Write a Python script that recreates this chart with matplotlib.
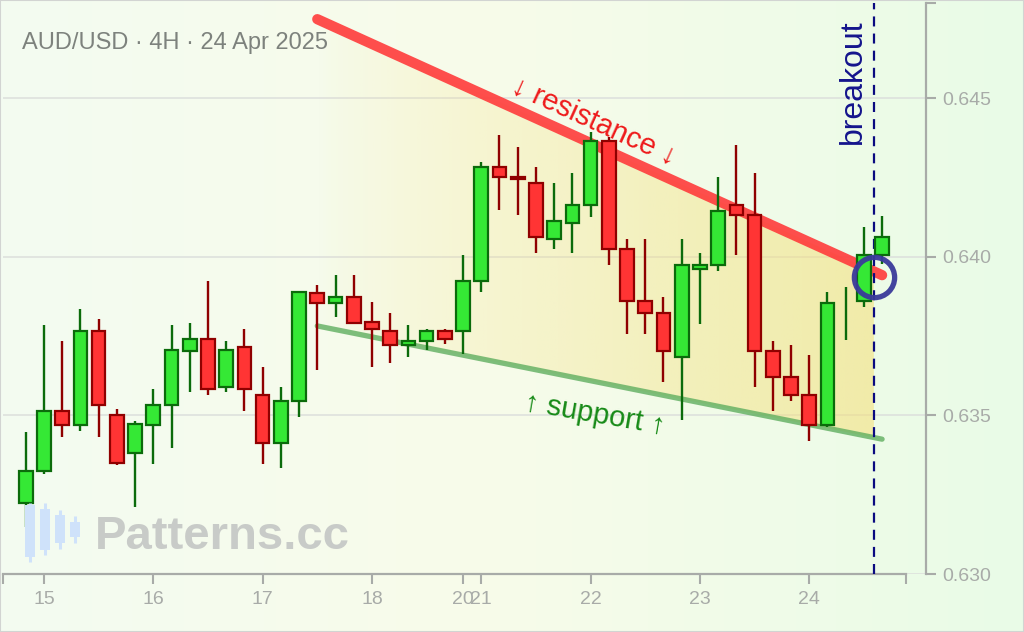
import numpy as np
import matplotlib
matplotlib.use("Agg")
import matplotlib.pyplot as plt
from matplotlib.colors import to_rgb
from matplotlib.patches import Rectangle, Polygon

plt.rcParams['font.family'] = ['Liberation Sans', 'DejaVu Sans']

title = "AUD/USD · 4H · 24 Apr 2025"

# 4H candles, AUD/USD, 14-24 Apr 2025
opens = [0.63225, 0.63325, 0.63515, 0.63470, 0.63767, 0.63502, 0.63381, 0.63470,
         0.63533, 0.63704, 0.63742, 0.63588, 0.63716, 0.63565, 0.63413, 0.63545,
         0.63887, 0.63854, 0.63874, 0.63793, 0.63767, 0.63721, 0.63734, 0.63767,
         0.63766, 0.63923, 0.64284, 0.64252, 0.64233, 0.64056, 0.64105, 0.64162,
         0.64366, 0.64024, 0.63861, 0.63824, 0.63684, 0.63961, 0.63974, 0.64163,
         0.64131, 0.63704, 0.63622, 0.63564, 0.63470, 0.63820, 0.63860, 0.64005]
highs = [0.63448, 0.63785, 0.63734, 0.63834, 0.63803, 0.63519, 0.63481, 0.63583,
         0.63785, 0.63791, 0.63923, 0.63734, 0.63771, 0.63651, 0.63588, 0.63890,
         0.63911, 0.63942, 0.63942, 0.63858, 0.63822, 0.63785, 0.63771, 0.63771,
         0.64005, 0.64299, 0.64384, 0.64345, 0.64282, 0.64231, 0.64263, 0.64394,
         0.64378, 0.64056, 0.64056, 0.63872, 0.64055, 0.64011, 0.64250, 0.64352,
         0.64265, 0.63735, 0.63722, 0.63690, 0.63890, 0.63904, 0.64093, 0.64129]
lows = [0.63149, 0.63314, 0.63433, 0.63452, 0.63433, 0.63345, 0.63212, 0.63346,
        0.63396, 0.63573, 0.63565, 0.63573, 0.63515, 0.63346, 0.63333, 0.63496,
        0.63643, 0.63811, 0.63788, 0.63653, 0.63666, 0.63685, 0.63706, 0.63725,
        0.63692, 0.63888, 0.64147, 0.64131, 0.64013, 0.64025, 0.64013, 0.64126,
        0.63974, 0.63755, 0.63755, 0.63604, 0.63485, 0.63787, 0.63956, 0.64005,
        0.63590, 0.63515, 0.63546, 0.63420, 0.63464, 0.63737, 0.63842, 0.63976]
closes = [0.63326, 0.63515, 0.63470, 0.63767, 0.63533, 0.63350, 0.63472, 0.63534,
          0.63705, 0.63742, 0.63583, 0.63705, 0.63583, 0.63413, 0.63546, 0.63888,
          0.63854, 0.63874, 0.63790, 0.63771, 0.63721, 0.63735, 0.63767, 0.63740,
          0.63924, 0.64284, 0.64250, 0.64244, 0.64061, 0.64113, 0.64163, 0.64366,
          0.64024, 0.63860, 0.63823, 0.63704, 0.63974, 0.63974, 0.64145, 0.64131,
          0.63703, 0.63621, 0.63563, 0.63470, 0.63855, 0.63820, 0.64005, 0.64063]

day_ticks = [1, 7, 13, 19, 24, 25, 31, 37, 43]
day_labels = ['15', '16', '17', '18', '20', '21', '22', '23', '24']
price_ticks = [0.630, 0.635, 0.640, 0.645]

res_x = [16, 47]
res_y = [0.64749, 0.63942]
sup_x = [16, 47]
sup_y = [0.63782, 0.63425]
breakout_x = 46.55
breakout_y = 0.63937

# watermark logo candles (relative heights)
logo_body_lo = [0.123, 0.231, 0.338, 0.431]
logo_body_hi = [0.923, 0.862, 0.769, 0.662]
logo_wick_lo = [0.046, 0.154, 0.246, 0.338]
logo_wick_hi = [0.954, 0.954, 0.846, 0.754]

W, H = 1024, 632
fig = plt.figure(figsize=(W / 100, H / 100), dpi=100)

# background gradient
bg = fig.add_axes([0, 0, 1, 1], zorder=-10)
bg.axis('off')
stops = [0.0, 0.45, 1.0]
cols = [to_rgb('#f3fbf1'), to_rgb('#f8fbea'), to_rgb('#e9fbe7')]
t = np.linspace(0, 1, 256)
grad = np.stack([np.interp(t, stops, [c[k] for c in cols]) for k in range(3)], axis=-1)
bg.imshow(grad[None, :, :], aspect='auto', extent=(0, 1, 0, 1))
bg.set_xlim(0, 1)
bg.set_ylim(0, 1)

ax = fig.add_axes([3 / W, 58 / H, 923 / W, 571 / H])
ax.set_facecolor('none')
x_lo, x_end, x_hi = -1.25, 48.31, 49.41
ax.set_xlim(x_lo, x_hi)
ax.set_ylim(0.630, 0.648)

# grid
for p in price_ticks:
    ax.axhline(p, color='#dcdfdc', lw=1.1, zorder=0)

# gradient triangle between trend lines
xs = np.linspace(res_x[0], breakout_x, 60)
top = np.interp(xs, res_x, res_y)
bot = np.interp(xs, sup_x, sup_y)
poly = Polygon(np.column_stack([np.r_[xs, xs[::-1]], np.r_[top, bot[::-1]]]),
               closed=True, facecolor='none', edgecolor='none')
ax.add_patch(poly)
fill = np.zeros((2, 256, 4))
fill[..., :3] = to_rgb('#f5df78')
fill[..., 3] = (0.56 * np.linspace(0, 1, 256) ** 0.8)[None, :]
im = ax.imshow(fill, aspect='auto', extent=(res_x[0], breakout_x, 0.630, 0.648),
               origin='lower', zorder=1)
im.set_clip_path(poly)

# trend lines
ax.plot(res_x, res_y, color='#ff3b3b', alpha=0.9, lw=7.4,
        solid_capstyle='round', zorder=2)
ax.plot(sup_x, sup_y, color='#5fae5f', alpha=0.8, lw=3.8,
        solid_capstyle='round', zorder=2)

# breakout marker line
ax.axvline(breakout_x, color='#0a0a80', lw=1.6, dashes=(4.5, 3.2), zorder=3)

# candles
x = np.arange(len(opens))
o = np.array(opens)
c = np.array(closes)
up = c >= o
edge = np.where(up, '#0b6b0b', '#8f0000')
face = np.where(up, '#35e835', '#ff3434')
ax.vlines(x, lows, highs, colors=edge, lw=1.7, zorder=4)
has_body = np.abs(c - o) > 0
ax.bar(x[has_body], np.abs(c - o)[has_body], bottom=np.minimum(o, c)[has_body],
       width=0.75, color=face[has_body], edgecolor=edge[has_body], linewidth=1.6,
       zorder=5)

# breakout circle
ax.plot([breakout_x], [breakout_y], 'o', ms=29, mfc='none', mec='#3a3a9a',
        mew=3.8, alpha=0.95, zorder=7)

# labels along the lines
def screen_angle(xx, yy):
    p = ax.transData.transform(np.column_stack([xx, yy]))
    return np.degrees(np.arctan2(p[1, 1] - p[0, 1], p[1, 0] - p[0, 0]))

ax.text(31.2, 0.64425, '↓ resistance ↓', color='#ee1b1b', fontsize=21,
        rotation=screen_angle(res_x, res_y), rotation_mode='anchor',
        ha='center', va='center', zorder=6)
ax.text(31.2, 0.63504, '↑ support ↑', color='#178a17', fontsize=21,
        rotation=screen_angle(sup_x, sup_y) + 1.5, rotation_mode='anchor',
        ha='center', va='center', zorder=6)
ax.text(45.4, 0.64551, 'breakout', color='#14148c', fontsize=23,
        rotation=90, ha='center', va='center', zorder=6)

# axes styling
axis_col = '#a8aba8'
for s in ['top', 'left']:
    ax.spines[s].set_visible(False)
ax.spines['bottom'].set_bounds(x_lo, x_end)
for s in ['bottom', 'right']:
    ax.spines[s].set_color(axis_col)
    ax.spines[s].set_linewidth(1.6)
ax.set_xticks([x_lo] + day_ticks + [x_end])
ax.set_xticklabels([''] + day_labels + [''])
ax.yaxis.tick_right()
ax.set_yticks(price_ticks + [0.648])
ax.set_yticklabels(['%.3f' % p for p in price_ticks] + [''])
ax.tick_params(axis='x', length=7.5, width=1.5, color=axis_col,
               labelcolor=axis_col, labelsize=14, pad=5)
ax.tick_params(axis='y', length=7.5, width=1.5, color=axis_col,
               labelcolor=axis_col, labelsize=14, pad=4.5)

# title and watermark
fig.text(22 / W, 1 - 49.5 / H, title, fontsize=17, color='#7d827d', va='baseline')
fig.text(95 / W, 1 - 549 / H, 'Patterns.cc', fontsize=34, weight='bold',
         color='#c8cbc8', va='baseline')
logo = fig.add_axes([22.5 / W, 1 - 565 / H, 60 / W, 65 / H])
logo.axis('off')
logo.set_xlim(-0.5, 3.5)
logo.set_ylim(0, 1)
lx = np.arange(len(logo_body_lo))
logo.vlines(lx, logo_wick_lo, logo_wick_hi, colors='#cfe2fa', lw=2.2)
logo.bar(lx, np.subtract(logo_body_hi, logo_body_lo), bottom=logo_body_lo,
         width=0.66, color='#cfe2fa')

# frame
fig.patches.append(Rectangle((0, 0), 1, 1, transform=fig.transFigure, fill=False,
                             edgecolor='#d2d4d2', lw=1.5, zorder=20))

fig.savefig('out.png', dpi=100)
